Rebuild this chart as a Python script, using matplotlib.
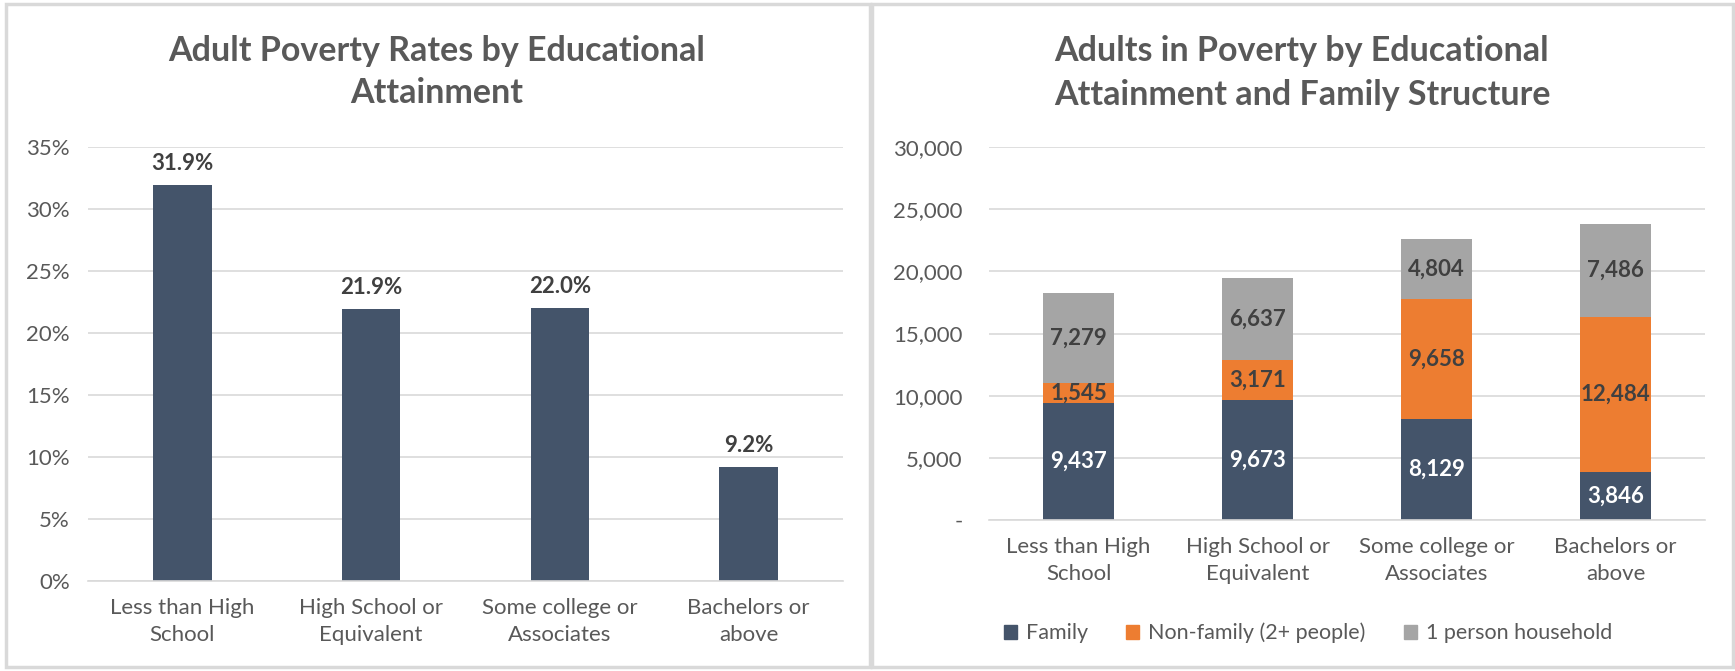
import matplotlib
matplotlib.use("Agg")
import matplotlib.pyplot as plt
from matplotlib.ticker import FuncFormatter
from matplotlib.patches import Patch

plt.rcParams['font.family'] = ['Lato', 'DejaVu Sans']

# Data
categories = ["Less than High\nSchool", "High School or\nEquivalent",
              "Some college or\nAssociates", "Bachelors or\nabove"]
poverty_rate = [31.9, 21.9, 22.0, 9.2]

family = [9437, 9673, 8129, 3846]
non_family = [1545, 3171, 9658, 12484]
one_person = [7279, 6637, 4804, 7486]
series_names = ["Family", "Non-family (2+ people)", "1 person household"]

# Colors
NAVY = "#44546A"
ORANGE = "#ED7D31"
GRAY = "#A5A5A5"
TEXT = "#595959"
LABEL = "#404040"
GRID = "#D9D9D9"

W, H = 1735, 671
fig = plt.figure(figsize=(W / 100, H / 100), dpi=100)


def px(x0, y0, x1, y1):
    # pixel box (top-left origin) -> figure fraction rect
    return [x0 / W, 1 - y1 / H, (x1 - x0) / W, (y1 - y0) / H]


# panel borders
for x0, x1 in [(6, 870), (872, 1733)]:
    fig.add_artist(plt.Rectangle((x0 / W, 4 / H), (x1 - x0) / W, (H - 8) / H,
                                 transform=fig.transFigure, fill=False,
                                 edgecolor=GRID, linewidth=2.5))


def style_axes(ax, ypad):
    for s in ax.spines.values():
        s.set_visible(False)
    ax.spines['bottom'].set_visible(True)
    ax.spines['bottom'].set_color(GRID)
    ax.spines['bottom'].set_linewidth(1.2)
    ax.grid(axis='y', color=GRID, linewidth=1.2)
    ax.set_axisbelow(True)
    ax.tick_params(axis='both', length=0, colors=TEXT, labelsize=16)
    ax.tick_params(axis='y', pad=ypad)
    ax.tick_params(axis='x', pad=12)
    ax.set_xlim(-0.5, len(categories) - 0.5)
    ax.set_xticks(range(len(categories)))
    ax.set_xticklabels(categories, fontsize=16, color=TEXT, linespacing=1.45)


# Left chart
ax1 = fig.add_axes(px(88, 147, 843, 581))
ax1.bar(range(len(categories)), [v / 100 for v in poverty_rate],
        width=0.31, color=NAVY)
ax1.set_ylim(0, 0.35)
ax1.set_yticks([i * 0.05 for i in range(8)])
ax1.yaxis.set_major_formatter(FuncFormatter(lambda v, p: f"{v * 100:.0f}%"))
style_axes(ax1, 13)
for i, v in enumerate(poverty_rate):
    ax1.annotate(f"{v:.1f}%", (i, v / 100), xytext=(0, 8), textcoords="offset points",
                 ha='center', va='bottom', fontsize=16, fontweight='bold', color=LABEL)
fig.text(437 / W, 1 - 72 / H, "Adult Poverty Rates by Educational\nAttainment",
         ha='center', va='center', fontsize=24.5, fontweight='bold', color=TEXT,
         linespacing=1.4)

# Right chart
ax2 = fig.add_axes(px(989, 147, 1705, 520))
x = range(len(categories))
ax2.bar(x, family, width=0.4, color=NAVY)
ax2.bar(x, non_family, width=0.4, bottom=family, color=ORANGE)
bottom2 = [a + b for a, b in zip(family, non_family)]
ax2.bar(x, one_person, width=0.4, bottom=bottom2, color=GRAY)
ax2.set_ylim(0, 30000)
ax2.set_yticks(range(0, 30001, 5000))
ax2.yaxis.set_major_formatter(FuncFormatter(lambda v, p: "-" if v == 0 else f"{v:,.0f}"))
style_axes(ax2, 19)
for i in x:
    ax2.text(i, family[i] / 2, f"{family[i]:,}", ha='center', va='center',
             fontsize=16, fontweight='bold', color='white')
    ax2.text(i, family[i] + non_family[i] / 2, f"{non_family[i]:,}", ha='center',
             va='center', fontsize=16, fontweight='bold', color=LABEL)
    ax2.text(i, bottom2[i] + one_person[i] / 2, f"{one_person[i]:,}", ha='center',
             va='center', fontsize=16, fontweight='bold', color=LABEL)
fig.text(1302 / W, 1 - 73 / H, "Adults in Poverty by Educational\nAttainment and Family Structure",
         ha='center', va='center', fontsize=24.5, fontweight='bold', color=TEXT,
         linespacing=1.45)

handles = [Patch(color=c) for c in [NAVY, ORANGE, GRAY]]
fig.legend(handles, series_names, loc='center', bbox_to_anchor=(1308 / W, 1 - 633 / H),
           ncol=3, frameon=False, fontsize=15.5, handlelength=0.6, handleheight=0.6,
           handletextpad=0.4, columnspacing=1.8, labelcolor=TEXT)

fig.savefig("out.png", dpi=100, facecolor='white')
